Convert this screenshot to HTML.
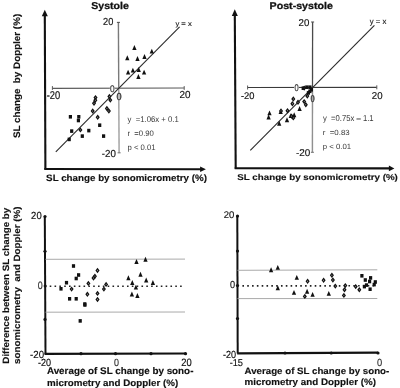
<!DOCTYPE html>
<html><head><meta charset="utf-8"><style>
html,body{margin:0;padding:0;background:#fff;width:400px;height:388px;overflow:hidden}
svg{display:block;filter:grayscale(1)}
text{font-family:"Liberation Sans", sans-serif}
</style></head><body>
<svg width="400" height="388" viewBox="0 0 400 388">
<rect width="400" height="388" fill="#fff"/>
<line x1="44.8" y1="15" x2="45.4" y2="169.4" stroke="#111" stroke-width="2.1" />
<path d="M41.8 16.3L44.8 9.7L47.8 16.3Z" fill="#111"/>
<line x1="44.3" y1="169.0" x2="201" y2="169.2" stroke="#111" stroke-width="2.1" />
<path d="M200.1 166.39999999999998L205.9 169.2L200.1 172.0Z" fill="#111"/>
<line x1="52.4" y1="88.3" x2="184.2" y2="88.0" stroke="#5a5a5a" stroke-width="1.2" />
<line x1="52.4" y1="86.1" x2="52.4" y2="89.9" stroke="#5a5a5a" stroke-width="1" />
<line x1="184.2" y1="86.1" x2="184.2" y2="89.9" stroke="#5a5a5a" stroke-width="1" />
<line x1="118.4" y1="22.4" x2="118.75" y2="88.3" stroke="#7a7a7a" stroke-width="1.4" />
<line x1="118.75" y1="88.3" x2="119.1" y2="152.8" stroke="#9e9e9e" stroke-width="1.4" />
<line x1="116.9" y1="22.4" x2="119.9" y2="22.4" stroke="#555" stroke-width="1.1" />
<line x1="117.6" y1="152.8" x2="120.6" y2="152.8" stroke="#777" stroke-width="1.1" />
<line x1="55.8" y1="151.9" x2="179.6" y2="26.9" stroke="#2a2a2a" stroke-width="1.1" />
<ellipse cx="112.3" cy="88.6" rx="2.4" ry="3.2" fill="#fff"/>
<ellipse cx="119.1" cy="96.5" rx="2.4" ry="3.4" fill="#bbb"/>
<path d="M132.25 49.95L134.40 45.05L136.55 49.95Z" fill="#111"/>
<path d="M125.15 60.15L127.30 55.25L129.45 60.15Z" fill="#111"/>
<path d="M135.35 60.95L137.50 56.05L139.65 60.95Z" fill="#111"/>
<path d="M142.35 58.95L144.50 54.05L146.65 58.95Z" fill="#111"/>
<path d="M149.65 53.55L151.80 48.65L153.95 53.55Z" fill="#111"/>
<path d="M125.95 74.55L128.10 69.65L130.25 74.55Z" fill="#111"/>
<path d="M130.75 72.55L132.90 67.65L135.05 72.55Z" fill="#111"/>
<path d="M136.55 71.95L138.70 67.05L140.85 71.95Z" fill="#111"/>
<path d="M141.95 74.55L144.10 69.65L146.25 74.55Z" fill="#111"/>
<path d="M136.25 78.95L138.40 74.05L140.55 78.95Z" fill="#111"/>
<rect x="68.80" y="115.00" width="3.2" height="3.6" fill="#111"/>
<rect x="77.20" y="115.00" width="3.2" height="3.6" fill="#111"/>
<rect x="76.80" y="118.70" width="3.2" height="3.6" fill="#111"/>
<rect x="70.10" y="129.30" width="3.2" height="3.6" fill="#111"/>
<rect x="80.70" y="134.30" width="3.2" height="3.6" fill="#111"/>
<rect x="87.20" y="128.80" width="3.2" height="3.6" fill="#111"/>
<rect x="98.10" y="123.40" width="3.2" height="3.6" fill="#111"/>
<rect x="102.00" y="134.30" width="3.2" height="3.6" fill="#111"/>
<rect x="67.60" y="137.60" width="3.2" height="3.6" fill="#111"/>
<path d="M95.50 94.90L97.55 97.60L95.50 100.30L93.45 97.60Z" fill="#111"/>
<path d="M95.50 96.92L96.01 97.60L95.50 98.27L94.99 97.60Z" fill="#bbb"/>
<path d="M95.30 97.60L97.35 100.30L95.30 103.00L93.25 100.30Z" fill="#111"/>
<path d="M95.30 99.62L95.81 100.30L95.30 100.97L94.79 100.30Z" fill="#bbb"/>
<path d="M94.00 100.50L96.05 103.20L94.00 105.90L91.95 103.20Z" fill="#111"/>
<path d="M94.00 102.53L94.51 103.20L94.00 103.88L93.49 103.20Z" fill="#bbb"/>
<path d="M92.70 108.30L94.75 111.00L92.70 113.70L90.65 111.00Z" fill="#111"/>
<path d="M92.70 110.33L93.21 111.00L92.70 111.67L92.19 111.00Z" fill="#bbb"/>
<path d="M97.70 114.60L99.75 117.30L97.70 120.00L95.65 117.30Z" fill="#111"/>
<path d="M97.70 116.62L98.21 117.30L97.70 117.97L97.19 117.30Z" fill="#bbb"/>
<path d="M80.40 127.20L82.45 129.90L80.40 132.60L78.35 129.90Z" fill="#111"/>
<path d="M80.40 129.22L80.91 129.90L80.40 130.58L79.89 129.90Z" fill="#bbb"/>
<path d="M109.40 93.70L111.45 96.40L109.40 99.10L107.35 96.40Z" fill="#111"/>
<path d="M109.40 95.73L109.91 96.40L109.40 97.08L108.89 96.40Z" fill="#bbb"/>
<path d="M110.30 97.40L112.35 100.10L110.30 102.80L108.25 100.10Z" fill="#111"/>
<path d="M110.30 99.42L110.81 100.10L110.30 100.77L109.79 100.10Z" fill="#bbb"/>
<path d="M106.90 105.80L108.95 108.50L106.90 111.20L104.85 108.50Z" fill="#111"/>
<path d="M106.90 107.83L107.41 108.50L106.90 109.17L106.39 108.50Z" fill="#bbb"/>
<path d="M108.90 108.30L110.95 111.00L108.90 113.70L106.85 111.00Z" fill="#111"/>
<path d="M108.90 110.33L109.41 111.00L108.90 111.67L108.39 111.00Z" fill="#bbb"/>
<line x1="234.8" y1="15" x2="235.7" y2="168.8" stroke="#111" stroke-width="2.1" />
<path d="M231.8 16.0L234.8 9.3L237.8 16.0Z" fill="#111"/>
<line x1="234.7" y1="168.3" x2="390" y2="168.4" stroke="#111" stroke-width="2.1" />
<path d="M388.9 165.5L394.4 168.4L388.9 171.3Z" fill="#111"/>
<line x1="247.6" y1="87.5" x2="376.8" y2="87.3" stroke="#3a3a3a" stroke-width="1.2" />
<line x1="247.6" y1="85.5" x2="247.6" y2="89.5" stroke="#5a5a5a" stroke-width="1" />
<line x1="376.8" y1="85.3" x2="376.8" y2="89.3" stroke="#5a5a5a" stroke-width="1" />
<line x1="312.6" y1="22" x2="312.5" y2="87.4" stroke="#4a4a4a" stroke-width="1.3" />
<line x1="312.5" y1="87.4" x2="312.4" y2="152.3" stroke="#909090" stroke-width="1.4" />
<line x1="311.1" y1="22" x2="314.1" y2="22" stroke="#5a5a5a" stroke-width="1.1" />
<line x1="310.9" y1="152.3" x2="313.9" y2="152.3" stroke="#777" stroke-width="1.1" />
<line x1="250.3" y1="150.3" x2="374.4" y2="25.3" stroke="#2a2a2a" stroke-width="1.1" />
<ellipse cx="296.5" cy="88" rx="2.4" ry="3.2" fill="#fff"/>
<ellipse cx="312.6" cy="98.3" rx="2.2" ry="3.3" fill="#aaa"/>
<path d="M267.35 115.35L269.50 110.45L271.65 115.35Z" fill="#111"/>
<path d="M266.45 119.45L268.60 114.55L270.75 119.45Z" fill="#111"/>
<path d="M278.55 114.05L280.70 109.15L282.85 114.05Z" fill="#111"/>
<path d="M277.05 125.75L279.20 120.85L281.35 125.75Z" fill="#111"/>
<path d="M284.85 122.15L287.00 117.25L289.15 122.15Z" fill="#111"/>
<path d="M297.45 110.95L299.60 106.05L301.75 110.95Z" fill="#111"/>
<path d="M292.05 117.15L294.20 112.25L296.35 117.15Z" fill="#111"/>
<path d="M288.65 118.05L290.80 113.15L292.95 118.05Z" fill="#111"/>
<path d="M287.50 108.00L289.55 110.70L287.50 113.40L285.45 110.70Z" fill="#111"/>
<path d="M287.50 110.03L288.01 110.70L287.50 111.38L286.99 110.70Z" fill="#bbb"/>
<path d="M293.30 96.30L295.35 99.00L293.30 101.70L291.25 99.00Z" fill="#111"/>
<path d="M293.30 98.33L293.81 99.00L293.30 99.67L292.79 99.00Z" fill="#bbb"/>
<path d="M292.40 101.00L294.45 103.70L292.40 106.40L290.35 103.70Z" fill="#111"/>
<path d="M292.40 103.03L292.91 103.70L292.40 104.38L291.89 103.70Z" fill="#bbb"/>
<path d="M298.00 99.50L300.05 102.20L298.00 104.90L295.95 102.20Z" fill="#111"/>
<path d="M298.00 101.53L298.51 102.20L298.00 102.88L297.49 102.20Z" fill="#bbb"/>
<path d="M291.50 113.40L293.55 116.10L291.50 118.80L289.45 116.10Z" fill="#111"/>
<path d="M291.50 115.42L292.01 116.10L291.50 116.77L290.99 116.10Z" fill="#bbb"/>
<path d="M293.30 115.20L295.35 117.90L293.30 120.60L291.25 117.90Z" fill="#111"/>
<path d="M293.30 117.23L293.81 117.90L293.30 118.58L292.79 117.90Z" fill="#bbb"/>
<path d="M304.20 98.90L306.25 101.60L304.20 104.30L302.15 101.60Z" fill="#111"/>
<path d="M304.20 100.92L304.71 101.60L304.20 102.27L303.69 101.60Z" fill="#bbb"/>
<path d="M305.80 102.00L307.85 104.70L305.80 107.40L303.75 104.70Z" fill="#111"/>
<path d="M305.80 104.03L306.31 104.70L305.80 105.38L305.29 104.70Z" fill="#bbb"/>
<path d="M307.30 93.30L309.35 96.00L307.30 98.70L305.25 96.00Z" fill="#111"/>
<path d="M307.30 95.33L307.81 96.00L307.30 96.67L306.79 96.00Z" fill="#bbb"/>
<path d="M304.20 85.40L306.25 88.10L304.20 90.80L302.15 88.10Z" fill="#111"/>
<path d="M304.20 87.42L304.71 88.10L304.20 88.77L303.69 88.10Z" fill="#bbb"/>
<path d="M281.00 108.20L283.05 110.90L281.00 113.60L278.95 110.90Z" fill="#111"/>
<path d="M281.00 110.23L281.51 110.90L281.00 111.58L280.49 110.90Z" fill="#bbb"/>
<rect x="301.60" y="86.40" width="3.2" height="3.6" fill="#111"/>
<rect x="305.20" y="85.40" width="3.2" height="3.6" fill="#111"/>
<rect x="308.30" y="85.40" width="3.2" height="3.6" fill="#111"/>
<rect x="309.80" y="88.00" width="3.2" height="3.6" fill="#111"/>
<rect x="308.30" y="89.50" width="3.2" height="3.6" fill="#111"/>
<rect x="306.80" y="91.10" width="3.2" height="3.6" fill="#111"/>
<line x1="44.8" y1="216.5" x2="45.5" y2="354" stroke="#111" stroke-width="2.0" />
<line x1="44.5" y1="353.9" x2="185.9" y2="353.5" stroke="#111" stroke-width="2.2" />
<circle cx="45" cy="216.5" r="1.6" fill="#111"/>
<circle cx="45" cy="251.3" r="1.6" fill="#111"/>
<circle cx="45" cy="319.4" r="1.6" fill="#111"/>
<circle cx="81" cy="353.7" r="1.6" fill="#111"/>
<circle cx="115.5" cy="353.7" r="1.6" fill="#111"/>
<circle cx="151" cy="353.7" r="1.6" fill="#111"/>
<circle cx="185.5" cy="353.7" r="1.6" fill="#111"/>
<circle cx="45.2" cy="286" r="1.6" fill="#111"/>
<line x1="45.5" y1="259.3" x2="185" y2="259.1" stroke="#aaa" stroke-width="1.0" />
<line x1="45.5" y1="312.2" x2="185" y2="312" stroke="#aaa" stroke-width="1.0" />
<line x1="49.7" y1="286.2" x2="183" y2="286.2" stroke="#222" stroke-width="1.6" stroke-dasharray="1.6 3.23"/>
<rect x="71.90" y="264.20" width="3.2" height="3.6" fill="#111"/>
<rect x="77.00" y="273.20" width="3.2" height="3.6" fill="#111"/>
<rect x="74.60" y="276.70" width="3.2" height="3.6" fill="#111"/>
<rect x="64.90" y="280.90" width="3.2" height="3.6" fill="#111"/>
<rect x="59.40" y="287.00" width="3.2" height="3.6" fill="#111"/>
<rect x="68.00" y="297.00" width="3.2" height="3.6" fill="#111"/>
<rect x="74.60" y="297.00" width="3.2" height="3.6" fill="#111"/>
<rect x="83.20" y="302.20" width="3.2" height="3.6" fill="#111"/>
<rect x="78.60" y="319.10" width="3.2" height="3.6" fill="#111"/>
<rect x="83.30" y="303.20" width="3.2" height="3.6" fill="#111"/>
<path d="M71.60 286.40L73.65 289.10L71.60 291.80L69.55 289.10Z" fill="#111"/>
<path d="M71.60 288.43L72.11 289.10L71.60 289.78L71.09 289.10Z" fill="#bbb"/>
<path d="M88.40 280.70L90.45 283.40L88.40 286.10L86.35 283.40Z" fill="#111"/>
<path d="M88.40 282.72L88.91 283.40L88.40 284.07L87.89 283.40Z" fill="#bbb"/>
<path d="M87.40 291.60L89.45 294.30L87.40 297.00L85.35 294.30Z" fill="#111"/>
<path d="M87.40 293.62L87.91 294.30L87.40 294.98L86.89 294.30Z" fill="#bbb"/>
<path d="M97.50 267.80L99.55 270.50L97.50 273.20L95.45 270.50Z" fill="#111"/>
<path d="M97.50 269.82L98.01 270.50L97.50 271.18L96.99 270.50Z" fill="#bbb"/>
<path d="M94.90 273.60L96.95 276.30L94.90 279.00L92.85 276.30Z" fill="#111"/>
<path d="M94.90 275.62L95.41 276.30L94.90 276.98L94.39 276.30Z" fill="#bbb"/>
<path d="M93.50 275.30L95.55 278.00L93.50 280.70L91.45 278.00Z" fill="#111"/>
<path d="M93.50 277.32L94.01 278.00L93.50 278.68L92.99 278.00Z" fill="#bbb"/>
<path d="M97.50 290.70L99.55 293.40L97.50 296.10L95.45 293.40Z" fill="#111"/>
<path d="M97.50 292.72L98.01 293.40L97.50 294.07L96.99 293.40Z" fill="#bbb"/>
<path d="M97.50 296.80L99.55 299.50L97.50 302.20L95.45 299.50Z" fill="#111"/>
<path d="M97.50 298.82L98.01 299.50L97.50 300.18L96.99 299.50Z" fill="#bbb"/>
<path d="M106.10 281.70L108.15 284.40L106.10 287.10L104.05 284.40Z" fill="#111"/>
<path d="M106.10 283.72L106.61 284.40L106.10 285.07L105.59 284.40Z" fill="#bbb"/>
<path d="M103.90 286.40L105.95 289.10L103.90 291.80L101.85 289.10Z" fill="#111"/>
<path d="M103.90 288.43L104.41 289.10L103.90 289.78L103.39 289.10Z" fill="#bbb"/>
<path d="M134.35 263.95L136.50 259.05L138.65 263.95Z" fill="#111"/>
<path d="M143.35 261.75L145.50 256.85L147.65 261.75Z" fill="#111"/>
<path d="M138.35 276.75L140.50 271.85L142.65 276.75Z" fill="#111"/>
<path d="M144.05 282.45L146.20 277.55L148.35 282.45Z" fill="#111"/>
<path d="M150.75 284.95L152.90 280.05L155.05 284.95Z" fill="#111"/>
<path d="M130.15 284.95L132.30 280.05L134.45 284.95Z" fill="#111"/>
<path d="M126.25 280.25L128.40 275.35L130.55 280.25Z" fill="#111"/>
<path d="M133.75 289.55L135.90 284.65L138.05 289.55Z" fill="#111"/>
<path d="M129.75 296.45L131.90 291.55L134.05 296.45Z" fill="#111"/>
<path d="M135.25 297.95L137.40 293.05L139.55 297.95Z" fill="#111"/>
<line x1="237.3" y1="216.1" x2="237.7" y2="353.5" stroke="#111" stroke-width="2.0" />
<line x1="237.2" y1="353.3" x2="378" y2="352.6" stroke="#111" stroke-width="2.2" />
<circle cx="237.5" cy="216.1" r="1.6" fill="#111"/>
<circle cx="237.5" cy="251.1" r="1.6" fill="#111"/>
<circle cx="237.5" cy="285.6" r="1.6" fill="#111"/>
<circle cx="237.5" cy="318.6" r="1.6" fill="#111"/>
<circle cx="285" cy="353" r="1.6" fill="#111"/>
<circle cx="331.25" cy="353" r="1.6" fill="#111"/>
<circle cx="378" cy="353" r="1.6" fill="#111"/>
<line x1="237.5" y1="270.3" x2="377.3" y2="269.8" stroke="#aaa" stroke-width="1.0" />
<line x1="237.5" y1="298.6" x2="377.3" y2="298.5" stroke="#aaa" stroke-width="1.0" />
<line x1="242.4" y1="285.9" x2="377" y2="285.8" stroke="#222" stroke-width="1.6" stroke-dasharray="1.6 3.22"/>
<path d="M268.95 272.15L271.10 267.25L273.25 272.15Z" fill="#111"/>
<path d="M275.65 269.85L277.80 264.95L279.95 269.85Z" fill="#111"/>
<path d="M294.65 279.85L296.80 274.95L298.95 279.85Z" fill="#111"/>
<path d="M275.65 290.25L277.80 285.35L279.95 290.25Z" fill="#111"/>
<path d="M291.85 294.85L294.00 289.95L296.15 294.85Z" fill="#111"/>
<path d="M304.95 293.75L307.10 288.85L309.25 293.75Z" fill="#111"/>
<path d="M310.45 296.85L312.60 291.95L314.75 296.85Z" fill="#111"/>
<path d="M326.65 295.85L328.80 290.95L330.95 295.85Z" fill="#111"/>
<path d="M307.60 278.60L309.65 281.30L307.60 284.00L305.55 281.30Z" fill="#111"/>
<path d="M307.60 280.62L308.11 281.30L307.60 281.98L307.09 281.30Z" fill="#bbb"/>
<path d="M304.80 293.70L306.85 296.40L304.80 299.10L302.75 296.40Z" fill="#111"/>
<path d="M304.80 295.72L305.31 296.40L304.80 297.07L304.29 296.40Z" fill="#bbb"/>
<path d="M323.60 277.60L325.65 280.30L323.60 283.00L321.55 280.30Z" fill="#111"/>
<path d="M323.60 279.62L324.11 280.30L323.60 280.98L323.09 280.30Z" fill="#bbb"/>
<path d="M331.90 272.60L333.95 275.30L331.90 278.00L329.85 275.30Z" fill="#111"/>
<path d="M331.90 274.62L332.41 275.30L331.90 275.98L331.39 275.30Z" fill="#bbb"/>
<path d="M332.90 277.30L334.95 280.00L332.90 282.70L330.85 280.00Z" fill="#111"/>
<path d="M332.90 279.32L333.41 280.00L332.90 280.68L332.39 280.00Z" fill="#bbb"/>
<path d="M335.30 283.40L337.35 286.10L335.30 288.80L333.25 286.10Z" fill="#111"/>
<path d="M335.30 285.43L335.81 286.10L335.30 286.78L334.79 286.10Z" fill="#bbb"/>
<path d="M345.30 282.90L347.35 285.60L345.30 288.30L343.25 285.60Z" fill="#111"/>
<path d="M345.30 284.93L345.81 285.60L345.30 286.28L344.79 285.60Z" fill="#bbb"/>
<path d="M344.50 287.00L346.55 289.70L344.50 292.40L342.45 289.70Z" fill="#111"/>
<path d="M344.50 289.02L345.01 289.70L344.50 290.38L343.99 289.70Z" fill="#bbb"/>
<path d="M343.90 292.70L345.95 295.40L343.90 298.10L341.85 295.40Z" fill="#111"/>
<path d="M343.90 294.72L344.41 295.40L343.90 296.07L343.39 295.40Z" fill="#bbb"/>
<path d="M355.70 283.90L357.75 286.60L355.70 289.30L353.65 286.60Z" fill="#111"/>
<path d="M355.70 285.93L356.21 286.60L355.70 287.28L355.19 286.60Z" fill="#bbb"/>
<path d="M359.30 287.00L361.35 289.70L359.30 292.40L357.25 289.70Z" fill="#111"/>
<path d="M359.30 289.02L359.81 289.70L359.30 290.38L358.79 289.70Z" fill="#bbb"/>
<rect x="360.30" y="274.00" width="3.2" height="3.6" fill="#111"/>
<rect x="363.70" y="278.20" width="3.2" height="3.6" fill="#111"/>
<rect x="369.00" y="276.10" width="3.2" height="3.6" fill="#111"/>
<rect x="368.00" y="279.70" width="3.2" height="3.6" fill="#111"/>
<rect x="373.70" y="280.20" width="3.2" height="3.6" fill="#111"/>
<rect x="372.60" y="282.80" width="3.2" height="3.6" fill="#111"/>
<rect x="364.90" y="283.30" width="3.2" height="3.6" fill="#111"/>
<rect x="368.50" y="287.40" width="3.2" height="3.6" fill="#111"/>
<rect x="362.80" y="284.80" width="3.2" height="3.6" fill="#111"/>
<text xml:space="preserve" font-size="100" font-weight="bold" fill="#111" stroke="#111" stroke-width="2.85" transform="matrix(0.10544 0 0.000198 0.09894 91.28 8.62)">Systole</text>
<text xml:space="preserve" font-size="100" font-weight="bold" fill="#111" stroke="#111" stroke-width="1.58" transform="translate(20.01 138.09) rotate(-90) matrix(0.09833 0 0.000189 0.09468 0 0)">SL change  by Doppler (%)</text>
<text xml:space="preserve" font-size="100" font-weight="normal" fill="#222" stroke="#222" stroke-width="1.96" transform="matrix(0.07653 0 0.000141 0.07027 175.40 26.02)">y = x</text>
<text xml:space="preserve" font-size="100" font-weight="normal" fill="#111" stroke="#111" stroke-width="1.63" transform="matrix(0.09216 0 0.000203 0.10141 103.04 25.30)">20</text>
<text xml:space="preserve" font-size="100" font-weight="normal" fill="#111" stroke="#111" stroke-width="1.61" transform="matrix(0.09343 0 0.000225 0.11268 46.73 98.89)">-20</text>
<text xml:space="preserve" font-size="100" font-weight="normal" fill="#111" stroke="#111" stroke-width="1.51" transform="matrix(0.09902 0 0.000203 0.10141 179.60 98.20)">20</text>
<text xml:space="preserve" font-size="100" font-weight="normal" fill="#111" stroke="#111" stroke-width="1.53" transform="matrix(0.09781 0 0.000203 0.10141 101.81 156.60)">-20</text>
<text xml:space="preserve" font-size="100" font-weight="normal" fill="#333" stroke="#333" stroke-width="1.80" transform="matrix(0.08333 0 0.000194 0.09718 109.97 92.00)">0</text>
<text xml:space="preserve" font-size="100" font-weight="normal" fill="#333" stroke="#333" stroke-width="1.64" transform="matrix(0.09167 0 0.000203 0.10141 116.53 100.00)">0</text>
<text xml:space="preserve" font-size="100" font-weight="normal" fill="#3a3a3a" stroke="#3a3a3a" stroke-width="0.01" transform="matrix(0.07763 0 0.000165 0.08242 127.50 121.97)">y  =1.06x + 0.1</text>
<text xml:space="preserve" font-size="100" font-weight="normal" fill="#3a3a3a" stroke="#3a3a3a" stroke-width="0.01" transform="matrix(0.07764 0 0.000161 0.08028 127.46 136.02)">r  =0.90</text>
<text xml:space="preserve" font-size="100" font-weight="normal" fill="#3a3a3a" stroke="#3a3a3a" stroke-width="0.01" transform="matrix(0.07727 0 0.000158 0.07912 127.46 149.94)">p &lt; 0.01</text>
<text xml:space="preserve" font-size="100" font-weight="bold" fill="#111" stroke="#111" stroke-width="1.53" transform="matrix(0.09804 0 0.000185 0.09255 46.11 180.96)">SL change by sonomicrometry (%)</text>
<text xml:space="preserve" font-size="100" font-weight="bold" fill="#111" stroke="#111" stroke-width="2.81" transform="matrix(0.10668 0 0.000196 0.09787 269.55 8.74)">Post-systole</text>
<text xml:space="preserve" font-size="100" font-weight="normal" fill="#222" stroke="#222" stroke-width="1.94" transform="matrix(0.07746 0 0.000154 0.07703 369.80 24.38)">y = x</text>
<text xml:space="preserve" font-size="100" font-weight="normal" fill="#111" stroke="#111" stroke-width="1.55" transform="matrix(0.09706 0 0.000197 0.09859 298.51 25.50)">20</text>
<text xml:space="preserve" font-size="100" font-weight="normal" fill="#111" stroke="#111" stroke-width="1.61" transform="matrix(0.09343 0 0.000192 0.09577 240.93 99.00)">-20</text>
<text xml:space="preserve" font-size="100" font-weight="normal" fill="#111" stroke="#111" stroke-width="1.55" transform="matrix(0.09706 0 0.000200 0.10000 371.81 99.20)">20</text>
<text xml:space="preserve" font-size="100" font-weight="normal" fill="#111" stroke="#111" stroke-width="1.51" transform="matrix(0.09927 0 0.000197 0.09859 296.00 155.70)">-20</text>
<text xml:space="preserve" font-size="100" font-weight="normal" fill="#333" stroke="#333" stroke-width="2.00" transform="matrix(0.07500 0 0.000194 0.09718 294.40 91.30)">0</text>
<text xml:space="preserve" font-size="100" font-weight="normal" fill="#333" stroke="#333" stroke-width="2.25" transform="matrix(0.06667 0 0.000192 0.09577 310.73 101.60)">0</text>
<text xml:space="preserve" font-size="100" font-weight="normal" fill="#3a3a3a" stroke="#3a3a3a" stroke-width="0.01" transform="matrix(0.07706 0 0.000171 0.08571 323.00 121.10)">y  =0.75x – 1.1</text>
<text xml:space="preserve" font-size="100" font-weight="normal" fill="#3a3a3a" stroke="#3a3a3a" stroke-width="0.01" transform="matrix(0.07879 0 0.000149 0.07465 322.75 135.13)">r  =0.83</text>
<text xml:space="preserve" font-size="100" font-weight="normal" fill="#3a3a3a" stroke="#3a3a3a" stroke-width="0.01" transform="matrix(0.07812 0 0.000149 0.07473 322.75 149.13)">p &lt; 0.01</text>
<text xml:space="preserve" font-size="100" font-weight="bold" fill="#111" stroke="#111" stroke-width="1.53" transform="matrix(0.09780 0 0.000168 0.08404 237.31 180.04)">SL change by sonomicrometry (%)</text>
<text xml:space="preserve" font-size="100" font-weight="bold" fill="#111" stroke="#111" stroke-width="1.64" transform="translate(8.58 363.69) rotate(-90) matrix(0.09804 0 0.000183 0.09149 0 0)">Difference between SL change by</text>
<text xml:space="preserve" font-size="100" font-weight="bold" fill="#111" stroke="#111" stroke-width="1.66" transform="translate(20.00 363.89) rotate(-90) matrix(0.09818 0 0.000181 0.09043 0 0)">sonomicrometry  and Doppler (%)</text>
<text xml:space="preserve" font-size="100" font-weight="normal" fill="#111" stroke="#111" stroke-width="1.58" transform="matrix(0.09510 0 0.000206 0.10282 31.12 218.70)">20</text>
<text xml:space="preserve" font-size="100" font-weight="normal" fill="#333" stroke="#333" stroke-width="1.67" transform="matrix(0.08958 0 0.000214 0.10704 37.64 288.59)">0</text>
<text xml:space="preserve" font-size="100" font-weight="normal" fill="#111" stroke="#111" stroke-width="1.55" transform="matrix(0.09708 0 0.000206 0.10282 30.01 358.20)">-20</text>
<text xml:space="preserve" font-size="100" font-weight="normal" fill="#111" stroke="#111" stroke-width="1.64" transform="matrix(0.09124 0 0.000206 0.10282 37.94 365.70)">-20</text>
<text xml:space="preserve" font-size="100" font-weight="normal" fill="#333" stroke="#333" stroke-width="1.67" transform="matrix(0.08958 0 0.000208 0.10423 113.94 365.80)">0</text>
<text xml:space="preserve" font-size="100" font-weight="normal" fill="#111" stroke="#111" stroke-width="1.59" transform="matrix(0.09412 0 0.000214 0.10704 181.23 366.39)">20</text>
<text xml:space="preserve" font-size="100" font-weight="bold" fill="#111" stroke="#111" stroke-width="1.52" transform="matrix(0.09858 0 0.000194 0.09681 46.90 374.27)">Average of SL change by sono-</text>
<text xml:space="preserve" font-size="100" font-weight="bold" fill="#111" stroke="#111" stroke-width="1.53" transform="matrix(0.09797 0 0.000187 0.09362 47.01 385.53)">micrometry and Doppler (%)</text>
<text xml:space="preserve" font-size="100" font-weight="normal" fill="#111" stroke="#111" stroke-width="1.58" transform="matrix(0.09510 0 0.000194 0.09718 223.72 217.70)">20</text>
<text xml:space="preserve" font-size="100" font-weight="normal" fill="#111" stroke="#111" stroke-width="1.64" transform="matrix(0.09167 0 0.000203 0.10141 229.93 288.00)">0</text>
<text xml:space="preserve" font-size="100" font-weight="normal" fill="#111" stroke="#111" stroke-width="1.64" transform="matrix(0.09124 0 0.000206 0.10282 222.94 358.40)">-20</text>
<text xml:space="preserve" font-size="100" font-weight="normal" fill="#111" stroke="#111" stroke-width="1.62" transform="matrix(0.09265 0 0.000200 0.10000 229.63 366.30)">-15</text>
<text xml:space="preserve" font-size="100" font-weight="normal" fill="#333" stroke="#333" stroke-width="1.60" transform="matrix(0.09375 0 0.000206 0.10282 377.02 365.80)">0</text>
<text xml:space="preserve" font-size="100" font-weight="bold" fill="#111" stroke="#111" stroke-width="1.54" transform="matrix(0.09730 0 0.000185 0.09255 244.51 373.56)">Average of SL change by sono-</text>
<text xml:space="preserve" font-size="100" font-weight="bold" fill="#111" stroke="#111" stroke-width="1.53" transform="matrix(0.09827 0 0.000187 0.09362 244.61 385.33)">micrometry and Doppler (%)</text>
</svg>
</body></html>
